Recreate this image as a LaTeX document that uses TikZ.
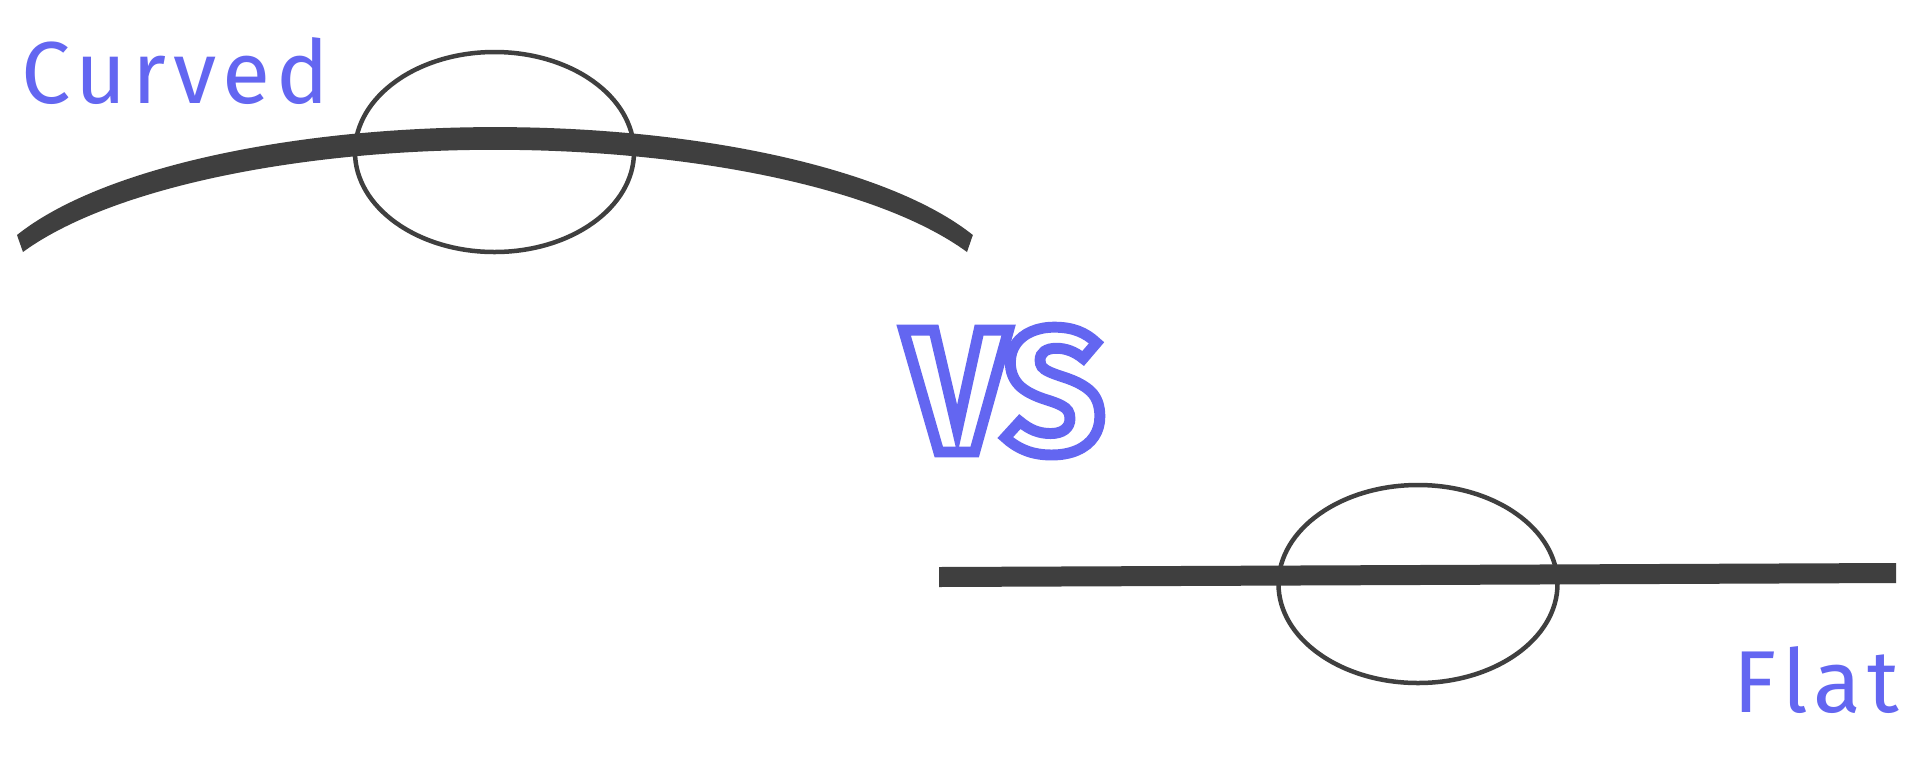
\documentclass[tikz,border=0pt]{standalone}
\usepackage{fontspec}
\setmainfont{Fira Sans}
\newfontfamily\rotulo{Fira Sans}[LetterSpace=7]
\usetikzlibrary{positioning}
\definecolor{indigo}{HTML}{6366F1}
\definecolor{grafito}{HTML}{3F3F3F}
\newcommand{\contorno}[1]{\special{pdf:literal direct 1 Tr 3.1 w}#1\special{pdf:literal direct 0 Tr}}

\begin{document}
\begin{tikzpicture}[x=0.01cm, y=0.01cm]
          \useasboundingbox[fill=white] (0,0) rectangle (1920,759);

          % Lente curva
          \draw[line width=0.045cm, grafito] (494.5,607) ellipse [x radius=139.5, y radius=100];
          \fill[grafito] (17,524) arc[start angle=156.8, end angle=23.2, x radius=520, y radius=178]
            -- (967,507) arc[start angle=24.8, end angle=155.2, x radius=520, y radius=176] -- cycle;
          \node[anchor=base west, inner sep=0pt, font=\rotulo\fontsize{25}{30}\selectfont, indigo] (curvado) at (21,656) {Curved};

          % Lente plana
          \draw[line width=0.045cm, grafito] (1418,175) ellipse [x radius=139.5, y radius=99];
          \fill[grafito] (939,192) -- (1896,196) -- (1896,176) -- (939,172) -- cycle;
          \node[anchor=base west, inner sep=0pt, font=\rotulo\fontsize{25}{30}\selectfont, indigo] (plano) at (1733,47) {Flat};

          % Comparación
          \node[anchor=base, inner sep=0pt, font=\fontsize{50}{60}\selectfont\bfseries, indigo] (versus) at (1005,307) {\contorno{VS}};
        \end{tikzpicture}
\end{document}
